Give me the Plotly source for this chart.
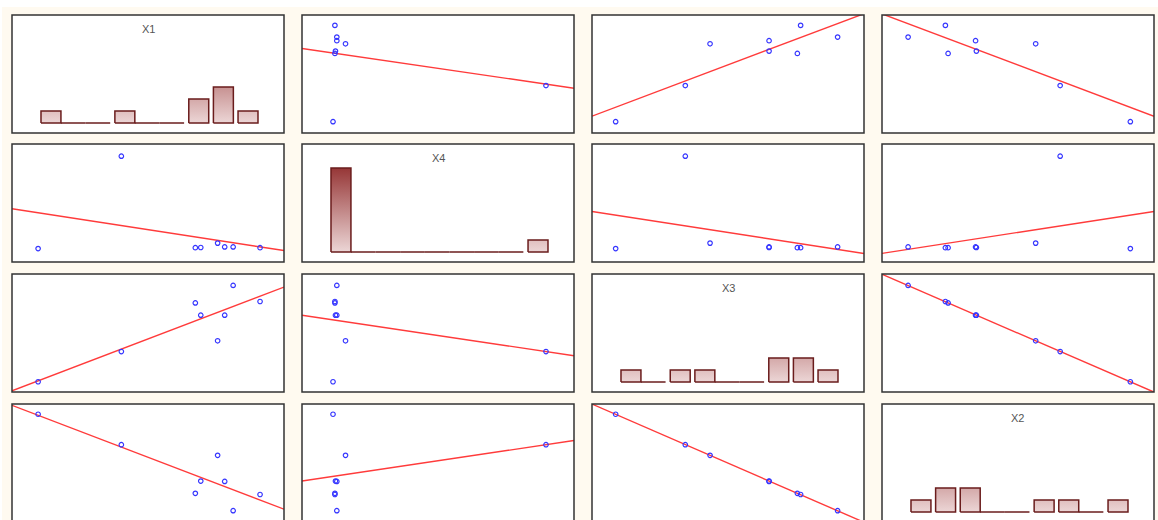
import numpy as np
import plotly.graph_objects as go

# Observations (8 cases), values in percent of each variable's axis range
x1 = [9.6, 40.2, 67.4, 69.4, 75.6, 78.2, 81.3, 91.2]
x4 = [11.4, 89.7, 12.1, 12.3, 16.0, 12.8, 12.8, 12.1]
x3 = [8.7, 34.3, 75.5, 65.1, 43.4, 65.1, 90.3, 76.7]
x2 = [91.3, 65.5, 24.3, 34.7, 56.5, 34.4, 9.6, 23.3]

var_names = ["X1", "X4", "X3", "X2"]
var_values = {"X1": x1, "X4": x4, "X3": x3, "X2": x2}
n_bins = 9
value_range = (0.0, 100.0)

# ---- page / panel geometry (pixels) ----
W, H = 1158, 520
col_left = [12, 302, 592, 882]
row_top = [15, 144, 274, 404]
panel_w, panel_h = 272, 118

# histogram axes: bin index units / count units
hist_xrange = (-1.582, 9.461)
hist_yrange = (-0.833, 9.0)
bar_half = 0.405

bar_fill_low = "#ECD6D6"
bar_fill_high = "#8A2020"
bar_edge = "#6A1C1C"
point_color = "#3535FF"
fit_color = "#FF3B3B"
frame_color = "#333333"

fig = go.Figure()
layout_axes = {}
shapes = []
annotations = []


def panel_domains(r, c):
    x0 = col_left[c] / W
    x1_ = (col_left[c] + panel_w) / W
    top_px = row_top[r]
    bot_px = row_top[r] + panel_h
    vis = 1.0
    if bot_px > H:
        vis = (H - top_px) / panel_h
        bot_px = H
    return [x0, x1_], [1 - bot_px / H, 1 - top_px / H], vis


def clipped_range(rng, vis):
    lo, hi = rng
    return [hi - (hi - lo) * vis, hi]


for r, rname in enumerate(var_names):
    for c, cname in enumerate(var_names):
        k = r * 4 + c + 1
        suffix = "" if k == 1 else str(k)
        xa, ya = f"x{suffix}", f"y{suffix}"
        dx, dy, vis = panel_domains(r, c)

        if r == c:
            vals = np.asarray(var_values[rname])
            counts, _ = np.histogram(vals, bins=n_bins)
            xs, ys = [], []
            for i, n in enumerate(counts):
                if n > 0:
                    xs += [i - bar_half, i - bar_half, i + bar_half, i + bar_half, i - bar_half, None]
                    ys += [0, n, n, 0, 0, None]
                else:
                    xs += [i - 1 + bar_half, i + bar_half, None]
                    ys += [0, 0, None]
            fig.add_trace(go.Scatter(
                x=xs, y=ys, mode="lines", fill="toself",
                fillgradient=dict(type="vertical",
                                  colorscale=[[0, bar_fill_low], [1, bar_fill_high]],
                                  start=0, stop=8),
                line=dict(color=bar_edge, width=1.5),
                xaxis=xa, yaxis=ya, hoverinfo="skip", showlegend=False))
            xr = list(hist_xrange)
            yr = clipped_range(hist_yrange, vis)
            annotations.append(dict(
                text=rname, xref="paper", yref="paper",
                x=(dx[0] + dx[1]) / 2, y=1 - (row_top[r] + 13.5) / H,
                xanchor="center", yanchor="middle", showarrow=False,
                font=dict(family="Liberation Sans, Arial", size=11, color="#555555")))
        else:
            xv = np.asarray(var_values[cname])
            yv = np.asarray(var_values[rname])
            slope, icpt = np.polyfit(xv, yv, 1)
            lx = np.array(value_range)
            fig.add_trace(go.Scatter(
                x=lx, y=slope * lx + icpt, mode="lines",
                line=dict(color=fit_color, width=1.4),
                xaxis=xa, yaxis=ya, hoverinfo="skip", showlegend=False))
            fig.add_trace(go.Scatter(
                x=xv, y=yv, mode="markers",
                marker=dict(symbol="circle-open", size=4.5, color=point_color,
                            line=dict(width=1.2, color=point_color)),
                xaxis=xa, yaxis=ya, hoverinfo="skip", showlegend=False))
            xr = list(value_range)
            yr = clipped_range(value_range, vis)

        axis_common = dict(showgrid=False, zeroline=False, showticklabels=False,
                           ticks="", showline=False, fixedrange=True)
        layout_axes[f"xaxis{suffix}"] = dict(domain=dx, range=xr, anchor=ya, **axis_common)
        layout_axes[f"yaxis{suffix}"] = dict(domain=dy, range=yr, anchor=xa, **axis_common)

        shapes.append(dict(type="rect", xref=f"{xa} domain", yref=f"{ya} domain",
                           x0=0, x1=1, y0=0 if vis == 1.0 else -0.1, y1=1,
                           line=dict(color=frame_color, width=1.5),
                           fillcolor="rgba(0,0,0,0)", layer="above"))

# thin white strips along the top and left page edges
shapes.append(dict(type="rect", xref="paper", yref="paper", x0=0, x1=1,
                   y0=1 - 7 / H, y1=1, line=dict(width=0), fillcolor="white", layer="below"))
shapes.append(dict(type="rect", xref="paper", yref="paper", x0=0, x1=2 / W,
                   y0=0, y1=1, line=dict(width=0), fillcolor="white", layer="below"))

fig.update_layout(
    width=W, height=H,
    margin=dict(l=0, r=0, t=0, b=0),
    paper_bgcolor="#FFFAF0",
    plot_bgcolor="white",
    showlegend=False,
    shapes=shapes,
    annotations=annotations,
    **layout_axes,
)

fig.write_html("out.html", config={"displayModeBar": False})
